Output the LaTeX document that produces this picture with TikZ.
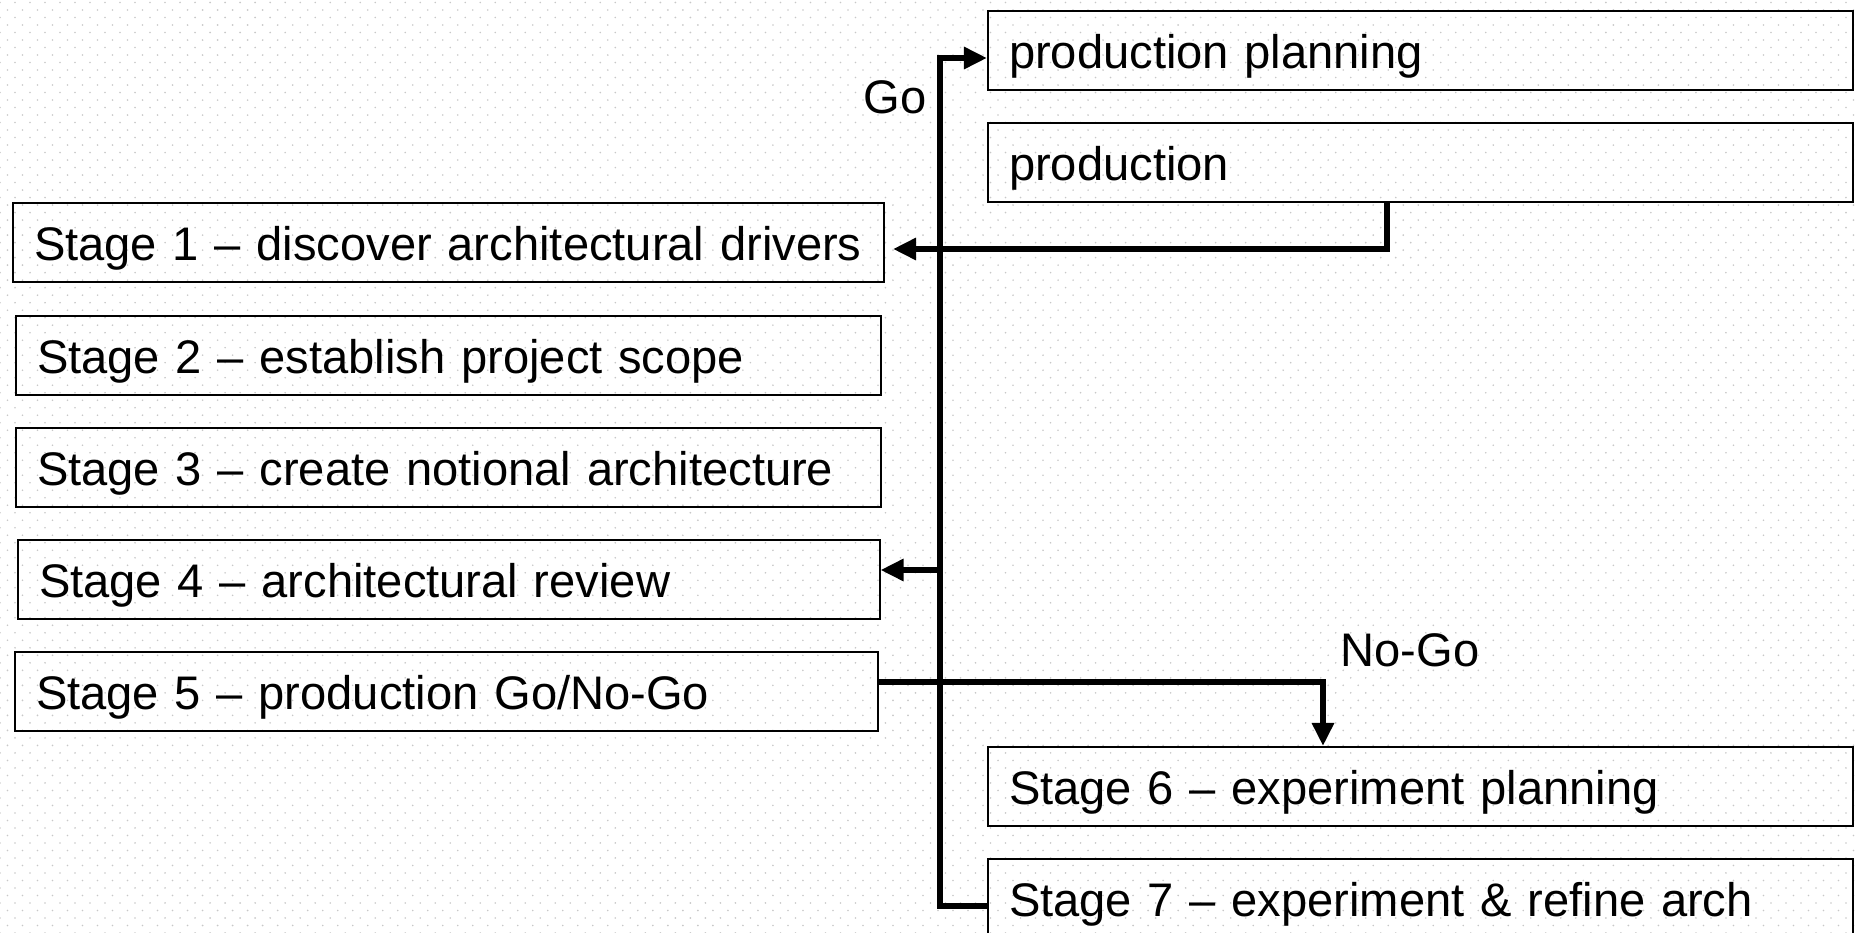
\documentclass[tikz,border=0pt]{standalone}
\usepackage{fontspec}
\setmainfont{Liberation Sans}
\usepackage{xcolor}
\usetikzlibrary{arrows.meta}
\usetikzlibrary{patterns.meta}
\usetikzlibrary{positioning}
\definecolor{dotgray}{RGB}{200,200,200}

\begin{document}
\begin{tikzpicture}[x=0.01cm, y=-0.01cm,
	stagebox/.style={draw, line width=0.57pt, anchor=north west, minimum height=0.79cm, inner xsep=0.21cm, inner ysep=0pt, text width=8.22cm, text height=10.9pt, text depth=0.9pt, align=left, font=\fontsize{13.4}{16}\selectfont},
	flow/.style={line width=1.9pt},
	tip/.style={-{Triangle[length=0.23cm,width=0.21cm]}},
	lbl/.style={font=\fontsize{13.4}{16}\selectfont}]
	\useasboundingbox (0,0) rectangle (1856,933);
	%dotted paper
	\fill[pattern={Dots[distance=0.15cm, radius=0.009cm]}, pattern color=dotgray] (0,0) rectangle (1856,933);
	\fill[pattern={Dots[distance=0.15cm, radius=0.009cm, xshift=0.075cm, yshift=0.075cm]}, pattern color=dotgray] (0,0) rectangle (1856,933);
	%stages on the left
	\node[stagebox, text width=8.28cm] (s1) at (12,202) {Stage 1 -- discover architectural drivers};
	\node[stagebox] (s2) at (15,315) {Stage 2 -- establish project scope};
	\node[stagebox] (s3) at (15,427) {Stage 3 -- create notional architecture};
	\node[stagebox, text width=8.19cm] (s4) at (17,539) {Stage 4 -- architectural review};
	\node[stagebox, text width=8.20cm] (s5) at (14,651) {Stage 5 -- production Go/No-Go};
	%boxes on the right
	\node[stagebox] (pplan) at (987,10) {production planning};
	\node[stagebox] (prod) at (987,122) {production};
	\node[stagebox] (s6) at (987,746) {Stage 6 -- experiment planning};
	\node[stagebox] (s7) at (987,858) {Stage 7 -- experiment \& refine arch};
	%bends
	\coordinate (bustop) at (940,58);
	\coordinate (busbot) at (940,906);
	\coordinate (j4) at (940,570);
	\coordinate (k1) at (1387,249);
	\coordinate (t1) at (893,249);
	\coordinate (k5) at (1323,682);
	%connectors
	\draw[flow, tip] (busbot -| s7.west) -- (busbot) -- (bustop) -- (bustop -| pplan.west);
	\draw[flow, tip] (j4) -- (j4 -| s4.east);
	\draw[flow, tip] (k1 |- prod.south) -- (k1) -- (t1);
	\draw[flow, tip] (k5 -| s5.east) -- (k5) -- (k5 |- s6.north);
	%labels
	\node[lbl] (go) at (895,97) {Go};
	\node[lbl] (nogo) at (1410,650) {No-Go};
\end{tikzpicture}
\end{document}
